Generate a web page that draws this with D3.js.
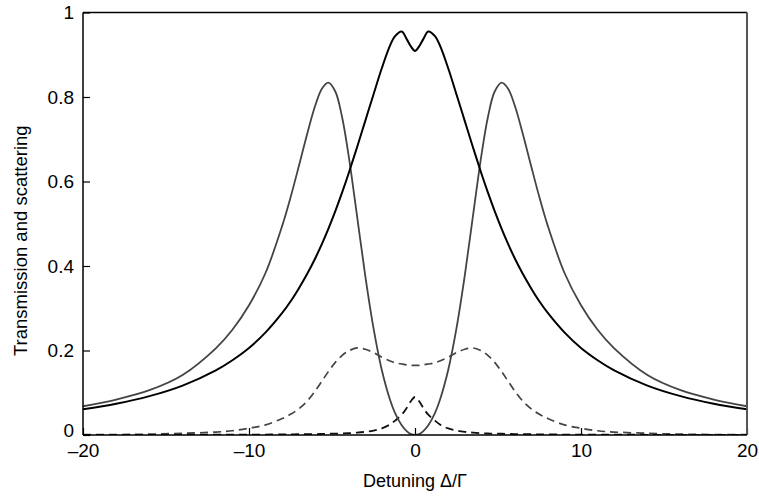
<!DOCTYPE html>
<html>
<head>
<meta charset="utf-8">
<script src="https://cdn.jsdelivr.net/npm/d3@7/dist/d3.min.js"></script>
<style>
  html, body { margin: 0; padding: 0; background: #fff; }
  svg { display: block; font-family: "Liberation Sans", Arial, sans-serif; }
</style>
</head>
<body>
<svg id="chart" width="759" height="497"></svg>
<script>
// ---- data ----
const detuning = [-20,-18,-16,-14,-12,-11,-10,-9,-8,-7.5,-7,-6.5,-6,-5.6,-5.22,-4.8,-4.4,-4,-3.5,-3,-2.5,-2,-1.5,-1.2,-0.8,-0.5,-0.25,0,
                  0.25,0.5,0.8,1.2,1.5,2,2.5,3,3.5,4,4.4,4.8,5.22,5.6,6,6.5,7,7.5,8,9,10,11,12,14,16,18,20];

// gray solid curve (double-peaked)
const graySolid = [0.068,0.084,0.106,0.142,0.205,0.249,0.307,0.384,0.495,0.562,0.636,0.712,0.781,0.820,0.834,0.813,0.754,0.662,0.521,0.378,0.253,0.154,0.083,0.052,0.023,0.009,0.002,0.000,
                   0.002,0.009,0.023,0.052,0.083,0.154,0.253,0.378,0.521,0.662,0.754,0.813,0.834,0.820,0.781,0.712,0.636,0.562,0.495,0.384,0.307,0.249,0.205,0.142,0.106,0.084,0.068];

// black solid curve (broad peak with small central dip)
const blackSolid = [0.061,0.074,0.092,0.117,0.153,0.177,0.206,0.243,0.289,0.316,0.347,0.381,0.419,0.453,0.488,0.530,0.573,0.619,0.680,0.743,0.806,0.868,0.922,0.944,0.955,0.937,0.920,0.909,
                    0.920,0.937,0.955,0.944,0.922,0.868,0.806,0.743,0.680,0.619,0.573,0.530,0.488,0.453,0.419,0.381,0.347,0.316,0.289,0.243,0.206,0.177,0.153,0.117,0.092,0.074,0.061];

// gray dashed curve (broad scattering)
const grayDashed = [0.001,0.001,0.002,0.004,0.007,0.010,0.016,0.024,0.039,0.049,0.062,0.080,0.105,0.128,0.150,0.172,0.188,0.199,0.206,0.203,0.195,0.184,0.175,0.171,0.168,0.166,0.165,0.165,
                    0.165,0.166,0.168,0.171,0.175,0.184,0.195,0.203,0.206,0.199,0.188,0.172,0.150,0.128,0.105,0.080,0.062,0.049,0.039,0.024,0.016,0.010,0.007,0.004,0.002,0.001,0.001];

// black dashed curve (narrow central peak)
const blackDashed = [0,0,0.0005,0.0005,0.001,0.001,0.001,0.001,0.0015,0.0015,0.0018,0.002,0.002,0.0025,0.003,0.0032,0.0036,0.0042,0.0055,0.0075,0.0105,0.0155,0.025,0.034,0.048,0.064,0.080,0.090,
                     0.080,0.064,0.048,0.034,0.025,0.0155,0.0105,0.0075,0.0055,0.0042,0.0036,0.0032,0.003,0.0025,0.002,0.002,0.0018,0.0015,0.0015,0.001,0.001,0.001,0.001,0.0005,0.0005,0,0];

const xTicks = [-20,-10,0,10,20];
const xTickLabels = ["\u201320","\u201310","0","10","20"];
const yTicks = [0,0.2,0.4,0.6,0.8,1];
const yTickLabels = ["0","0.2","0.4","0.6","0.8","1"];
const xTitle = "Detuning \u0394/\u0393";
const yTitle = "Transmission and scattering";

// ---- layout ----
const svg = d3.select("#chart");
const mLeft = 83, mRight = 747, mTop = 12.5, mBottom = 435;

const x = d3.scaleLinear().domain([-20, 20]).range([mLeft, mRight]);
const y = d3.scaleLinear().domain([0, 1]).range([mBottom, mTop]);

const pts = vals => detuning.map((d, i) => [d, vals[i]]);
const line = d3.line().x(d => x(d[0])).y(d => y(d[1])).curve(d3.curveCatmullRom.alpha(0.5));

const series = [
  { vals: grayDashed,  stroke: "#444", width: 1.7, dash: "8,5" },
  { vals: blackDashed, stroke: "#111", width: 1.8, dash: "8,5" },
  { vals: graySolid,   stroke: "#444", width: 1.8, dash: null },
  { vals: blackSolid,  stroke: "#000", width: 2.0, dash: null }
];

svg.append("clipPath").attr("id", "clip")
  .append("rect").attr("x", mLeft).attr("y", mTop - 2).attr("width", mRight - mLeft).attr("height", mBottom - mTop + 2);

const g = svg.append("g").attr("clip-path", "url(#clip)");
series.forEach(s => {
  g.append("path")
    .attr("d", line(pts(s.vals)))
    .attr("fill", "none")
    .attr("stroke", s.stroke)
    .attr("stroke-width", s.width)
    .attr("stroke-dasharray", s.dash);
});

// axes
const xAxis = d3.axisBottom(x).tickValues(xTicks).tickSizeInner(-7).tickSizeOuter(0)
  .tickFormat((d, i) => xTickLabels[i]).tickPadding(9);
const yAxis = d3.axisLeft(y).tickValues(yTicks).tickSizeInner(-7).tickSizeOuter(0)
  .tickFormat((d, i) => yTickLabels[i]).tickPadding(9);

const gx = svg.append("g").attr("transform", `translate(0,${mBottom})`).call(xAxis);
const gy = svg.append("g").attr("transform", `translate(${mLeft},0)`).call(yAxis);

[gx, gy].forEach(ax => {
  ax.select(".domain").remove();
  ax.selectAll(".tick line").attr("stroke", "#000").attr("stroke-width", 1.2);
  ax.selectAll(".tick text").attr("fill", "#000").style("font-size", "19px")
    .style("font-family", "'Liberation Sans', Arial, sans-serif");
});
// the "0" label sits a little above its tick in the reference
gy.selectAll(".tick text").filter(d => d === 0).attr("dy", "0.1em");

// frame
svg.append("line").attr("x1", mLeft).attr("x2", mRight).attr("y1", mTop).attr("y2", mTop)
  .attr("stroke", "#000").attr("stroke-width", 1.5);
svg.append("line").attr("x1", mRight).attr("x2", mRight).attr("y1", mTop).attr("y2", mBottom)
  .attr("stroke", "#555").attr("stroke-width", 2);
svg.append("line").attr("x1", mLeft).attr("x2", mLeft).attr("y1", mTop).attr("y2", mBottom)
  .attr("stroke", "#000").attr("stroke-width", 1.5);
svg.append("line").attr("x1", mLeft).attr("x2", mRight).attr("y1", mBottom).attr("y2", mBottom)
  .attr("stroke", "#000").attr("stroke-width", 1.5);

// titles
svg.append("text").attr("x", (mLeft + mRight) / 2).attr("y", 487)
  .attr("text-anchor", "middle").style("font-size", "18px").attr("fill", "#000")
  .text(xTitle);
svg.append("text").attr("transform", `translate(27,${(mTop + mBottom) / 2 + 17}) rotate(-90)`)
  .attr("text-anchor", "middle").style("font-size", "18.5px").attr("fill", "#000")
  .text(yTitle);
</script>
</body>
</html>
